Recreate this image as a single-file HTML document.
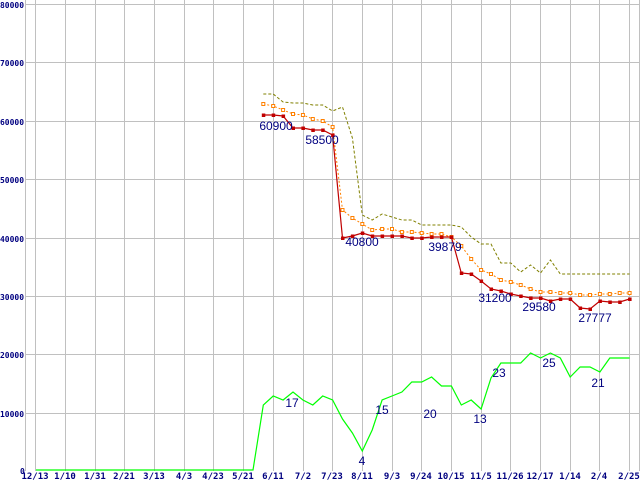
<!DOCTYPE html>
<html><head><meta charset="utf-8"><style>
html,body{margin:0;padding:0;background:#fff;width:640px;height:480px;overflow:hidden}
svg{display:block}
.ax{font-family:"DejaVu Sans Mono","Liberation Mono",monospace;font-size:9px;font-weight:bold;fill:#000080}
.ay{font-family:"DejaVu Sans Mono","Liberation Mono",monospace;font-size:8px;font-weight:bold;fill:#000080}
.lb{font-family:"Liberation Sans",sans-serif;font-size:12px;fill:#000080}
</style></head><body>
<svg width="640" height="480" viewBox="0 0 640 480" xmlns="http://www.w3.org/2000/svg">
<defs>
<marker id="mr" markerWidth="5" markerHeight="5" refX="2" refY="2" markerUnits="userSpaceOnUse"><rect x="0.5" y="0.5" width="3.5" height="3.5" fill="#c00000"/></marker>
<marker id="mo" markerWidth="6" markerHeight="6" refX="3" refY="3" markerUnits="userSpaceOnUse"><rect x="1.5" y="1.5" width="3" height="3" fill="#fff" stroke="#ff8000" stroke-width="1"/></marker>
</defs>
<g stroke="#c0c0c0" stroke-width="1">
<line x1="25.5" y1="0" x2="25.5" y2="471"/>
<line x1="639.5" y1="0" x2="639.5" y2="471"/>
<line x1="35.5" y1="0" x2="35.5" y2="471"/><line x1="65.5" y1="0" x2="65.5" y2="471"/><line x1="95.5" y1="0" x2="95.5" y2="471"/><line x1="124.5" y1="0" x2="124.5" y2="471"/><line x1="154.5" y1="0" x2="154.5" y2="471"/><line x1="184.5" y1="0" x2="184.5" y2="471"/><line x1="213.5" y1="0" x2="213.5" y2="471"/><line x1="243.5" y1="0" x2="243.5" y2="471"/><line x1="273.5" y1="0" x2="273.5" y2="471"/><line x1="303.5" y1="0" x2="303.5" y2="471"/><line x1="332.5" y1="0" x2="332.5" y2="471"/><line x1="362.5" y1="0" x2="362.5" y2="471"/><line x1="392.5" y1="0" x2="392.5" y2="471"/><line x1="421.5" y1="0" x2="421.5" y2="471"/><line x1="451.5" y1="0" x2="451.5" y2="471"/><line x1="481.5" y1="0" x2="481.5" y2="471"/><line x1="510.5" y1="0" x2="510.5" y2="471"/><line x1="540.5" y1="0" x2="540.5" y2="471"/><line x1="570.5" y1="0" x2="570.5" y2="471"/><line x1="599.5" y1="0" x2="599.5" y2="471"/><line x1="629.5" y1="0" x2="629.5" y2="471"/>
<line x1="25" y1="4.5" x2="640" y2="4.5"/><line x1="25" y1="62.5" x2="640" y2="62.5"/><line x1="25" y1="121.5" x2="640" y2="121.5"/><line x1="25" y1="179.5" x2="640" y2="179.5"/><line x1="25" y1="238.5" x2="640" y2="238.5"/><line x1="25" y1="296.5" x2="640" y2="296.5"/><line x1="25" y1="354.5" x2="640" y2="354.5"/><line x1="25" y1="413.5" x2="640" y2="413.5"/>
</g>
<g class="ay">
<text x="0" y="8" textLength="24" lengthAdjust="spacingAndGlyphs">80000</text><text x="0" y="66" textLength="24" lengthAdjust="spacingAndGlyphs">70000</text><text x="0" y="125" textLength="24" lengthAdjust="spacingAndGlyphs">60000</text><text x="0" y="183" textLength="24" lengthAdjust="spacingAndGlyphs">50000</text><text x="0" y="242" textLength="24" lengthAdjust="spacingAndGlyphs">40000</text><text x="0" y="300" textLength="24" lengthAdjust="spacingAndGlyphs">30000</text><text x="0" y="358" textLength="24" lengthAdjust="spacingAndGlyphs">20000</text><text x="0" y="417" textLength="24" lengthAdjust="spacingAndGlyphs">10000</text><text x="20" y="474">0</text>
</g>
<g class="ax" text-anchor="middle">
<text x="35" y="479">12/13</text><text x="65" y="479">1/10</text><text x="95" y="479">1/31</text><text x="124" y="479">2/21</text><text x="154" y="479">3/13</text><text x="184" y="479">4/3</text><text x="213" y="479">4/23</text><text x="243" y="479">5/21</text><text x="273" y="479">6/11</text><text x="303" y="479">7/2</text><text x="332" y="479">7/23</text><text x="362" y="479">8/11</text><text x="392" y="479">9/3</text><text x="421" y="479">9/24</text><text x="451" y="479">10/15</text><text x="481" y="479">11/5</text><text x="510" y="479">11/26</text><text x="540" y="479">12/17</text><text x="570" y="479">1/14</text><text x="599" y="479">2/4</text><text x="629" y="479">2/25</text>
</g>
<polyline fill="none" stroke="#00ff00" stroke-width="1.2" points="36,470 253,470 263.3,405 273.2,396 283.1,400 293,392 302.9,400 312.8,405 322.7,396 332.6,400 342.5,419 352.4,433 362.3,451 372.2,430 382.1,400 392,396 401.9,392 411.8,382 421.7,382 431.6,377 441.5,386 451.4,386 461.3,405 471.2,400 481.1,409 491,378 500.9,363 510.8,363 520.7,363 530.6,353 540.5,358 550.4,353 560.3,358 570.2,377 580.1,367 590,367 599.9,372 609.8,358 619.7,358 629.6,358"/>
<polyline fill="none" stroke="#808000" stroke-width="1" stroke-dasharray="3,2" points="263.3,94 273.2,94 283.1,102 293,103 302.9,103 312.8,105 322.7,105 332.6,111 342.5,107 352.4,138 362.3,215 372.2,220 382.1,214 392,217 401.9,220 411.8,220 421.7,225 431.6,225 441.5,225 451.4,225 461.3,227 471.2,237 481.1,244 491,244 500.9,263 510.8,263 520.7,272 530.6,265 540.5,273 550.4,260 560.3,274 570.2,274 580.1,274 590,274 599.9,274 609.8,274 619.7,274 629.6,274"/>
<polyline fill="none" stroke="#ff8000" stroke-width="1" stroke-dasharray="2,2" marker-start="url(#mo)" marker-mid="url(#mo)" marker-end="url(#mo)" points="263.3,104 273.2,106 283.1,110 293,114 302.9,115 312.8,119 322.7,121 332.6,127 342.5,210 352.4,218 362.3,224 372.2,230 382.1,229 392,229 401.9,232 411.8,232 421.7,233 431.6,234 441.5,234 451.4,237 461.3,246 471.2,259 481.1,270 491,274 500.9,280 510.8,282 520.7,285 530.6,289 540.5,292 550.4,292 560.3,293 570.2,293 580.1,295 590,295 599.9,294 609.8,294 619.7,293 629.6,293"/>
<polyline fill="none" stroke="#c00000" stroke-width="1.2" marker-start="url(#mr)" marker-mid="url(#mr)" marker-end="url(#mr)" points="263.3,115 273.2,115 283.1,116 293,128 302.9,128 312.8,130 322.7,130 332.6,135 342.5,238 352.4,236 362.3,233 372.2,236 382.1,236 392,236 401.9,236 411.8,238 421.7,238 431.6,237 441.5,237 451.4,237 461.3,273 471.2,274 481.1,281 491,289 500.9,291 510.8,294 520.7,296 530.6,298 540.5,298 550.4,301 560.3,299 570.2,299 580.1,308 590,309 599.9,301 609.8,302 619.7,302 629.6,299"/>
<g class="lb" text-anchor="middle">
<text x="276" y="130">60900</text><text x="322" y="144">58500</text><text x="362" y="246">40800</text><text x="445" y="251">39879</text><text x="495" y="302">31200</text><text x="539" y="311">29580</text><text x="595" y="322">27777</text>
<text x="292" y="407">17</text><text x="382" y="414">15</text><text x="362" y="465">4</text><text x="430" y="418">20</text><text x="480" y="423">13</text><text x="499" y="377">23</text><text x="549" y="367">25</text><text x="598" y="387">21</text>
</g>
</svg>
</body></html>
